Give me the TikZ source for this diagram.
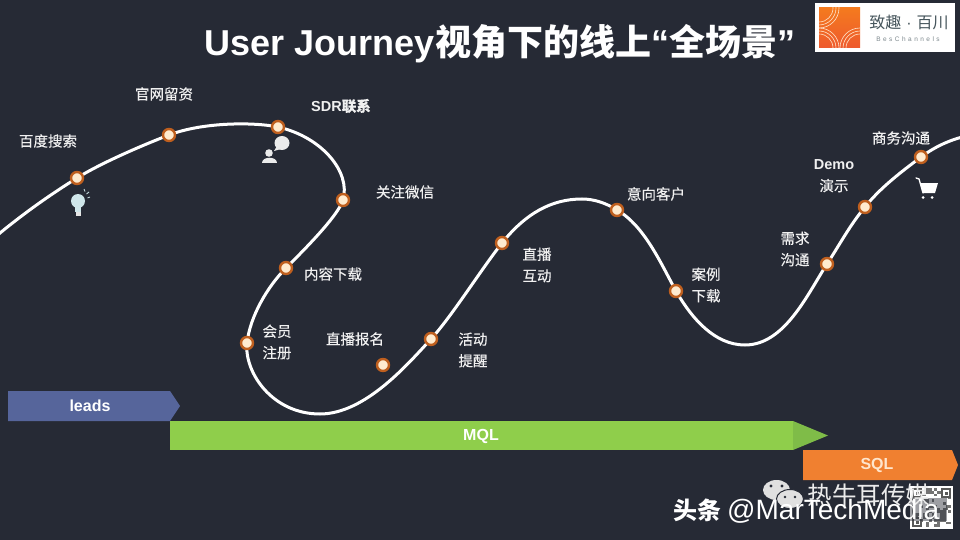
\documentclass[tikz,border=0pt]{standalone}
\usepackage{fontspec}
\setmainfont{Liberation Sans}
\newfontfamily\cjk{Noto Sans CJK SC}
\newfontfamily\cjkmed[FakeBold=0.25]{Noto Sans CJK SC}
\newfontfamily\logolatin[LetterSpace=38]{Liberation Sans}
\definecolor{slide}{HTML}{262A35}
\definecolor{leadsblue}{HTML}{56659B}
\definecolor{mqlgreen}{HTML}{8FCE4B}
\definecolor{mqltip}{HTML}{7FBC48}
\definecolor{sqlorange}{HTML}{F08030}
\definecolor{dotring}{HTML}{BF5F1E}
\definecolor{dotfill}{HTML}{FFEBCF}
\definecolor{iconblue}{HTML}{CFE6EA}
\definecolor{logotext}{HTML}{46555C}
\definecolor{logotop}{HTML}{F47A1E}
\definecolor{logobot}{HTML}{EE5A2E}
\tikzset{
  stagedot/.style={circle, draw=dotring, fill=dotfill, line width=2.4pt, minimum size=12pt, inner sep=0pt},
  stagelabel/.style={text=white!94!black, align=center, font=\cjkmed\fontsize{14.5}{21.5}\selectfont},
  barlabel/.style={text=white, font=\bfseries\fontsize{16}{18}\selectfont},
  curveline/.style={draw=white, line width=3pt, line cap=round}
}
\begin{document}
\begin{tikzpicture}[x=1pt,y=-1pt]
\useasboundingbox (0,0) rectangle (960,540);
\fill[slide] (0,0) rectangle (960,540);

% Title
\node[text=white, font=\bfseries\fontsize{36}{40}\selectfont, inner sep=0pt] (title) at (500,44)
  {User Journey{\cjk 视角下的线上}“{\cjk 全场景}”};

% Logo
\fill[white] (815,3) rectangle (955,52);
\begin{scope}
\clip (819,8) rectangle (860,48);
\shade[top color=logotop, bottom color=logobot] (819,8) rectangle (860,48);
\foreach \r in {14,17,20} {
  \draw[white!80!orange, line width=0.6pt] (819,8) circle (\r);
  \draw[white!80!orange, line width=0.6pt] (819,48) circle (\r);
  \draw[white!80!orange, line width=0.6pt] (860,48) circle (\r);
}
\end{scope}
\node[text=logotext, font=\cjk\fontsize{16}{20}\selectfont, inner sep=0pt] (logoname) at (909,22) {致趣\kern5pt{\rmfamily ·}\kern5pt百川};
\node[text=logotext!70, font=\logolatin\fontsize{6.5}{8}\selectfont, inner sep=0pt] (logosub) at (908,39) {BesChannels};

% Curve stops
\coordinate (start) at (-6,238);
\coordinate (baidu) at (77,178);
\coordinate (site) at (169,135);
\coordinate (sdr) at (278,127);
\coordinate (wechat) at (343,200);
\coordinate (download) at (286,268);
\coordinate (member) at (247,343);
\coordinate (low1) at (320,414);
\coordinate (signup) at (383,365);
\coordinate (remind) at (431,339);
\coordinate (live) at (502,243);
\coordinate (peak) at (582,199);
\coordinate (intent) at (617,210);
\coordinate (cases) at (676,291);
\coordinate (low2) at (745,345);
\coordinate (needs) at (827,264);
\coordinate (demo) at (865,207);
\coordinate (deal) at (921,157);
\coordinate (stop) at (966,136);

% Journey line
\draw[curveline] (start) .. controls (25,212) and (53,193) .. (baidu)
  .. controls (101,163) and (143,145) .. (site)
  .. controls (203,122) and (254,122) .. (sdr)
  .. controls (322,137) and (351,172) .. (wechat)
  .. controls (338,216) and (304,250) .. (download)
  .. controls (268,286) and (250,316) .. (member)
  .. controls (244,372) and (272,414) .. (low1)
  .. controls (365,414) and (408,364) .. (remind)
  .. controls (452,316) and (480,271) .. (live)
  .. controls (526,213) and (552,199) .. (peak)
  .. controls (594,199) and (606,203) .. (intent)
  .. controls (645,226) and (662,266) .. (cases)
  .. controls (692,319) and (715,345) .. (low2)
  .. controls (785,345) and (808,293) .. (needs)
  .. controls (840,244) and (850,225) .. (demo)
  .. controls (880,188) and (901,172) .. (deal)
  .. controls (936,146) and (950,140) .. (stop);
\foreach \n in {baidu,site,sdr,wechat,download,member,signup,remind,live,intent,cases,needs,demo,deal}
  \node[stagedot] (dot\n) at (\n) {};

% Labels
\node[stagelabel] (lbaidu) at (48,141) {百度搜索};
\node[stagelabel] (lsite) at (164,94) {官网留资};
\node[stagelabel] (lsdr) at (341,106) {\rmfamily\bfseries SDR{\cjkmed 联系}};
\node[stagelabel] (lwechat) at (405,192) {关注微信};
\node[stagelabel] (ldownload) at (333,274) {内容下载};
\node[stagelabel] (lmember) at (277,342) {会员\\注册};
\node[stagelabel] (lsignup) at (355,339) {直播报名};
\node[stagelabel] (lremind) at (473,350) {活动\\提醒};
\node[stagelabel] (llive) at (537,265) {直播\\互动};
\node[stagelabel] (lintent) at (656,194) {意向客户};
\node[stagelabel] (lcases) at (706,285) {案例\\下载};
\node[stagelabel] (lneeds) at (795,249) {需求\\沟通};
\node[stagelabel] (ldemo) at (834,176) {\rmfamily\bfseries Demo\\{\cjkmed 演示}};
\node[stagelabel] (ldeal) at (901,138) {商务沟通};

% Bulb icon
\fill[iconblue] (78,201) circle (7);
\fill[iconblue] (75,206) rectangle (81,212);
\fill[white!90!black] (75.5,212) rectangle (80.5,216);
\draw[iconblue, line width=0.8pt] (84,189) -- (85,191.5) (89,192) -- (86.5,194) (90,197) -- (87.5,198);

% Person and bubble icon
\fill[white!92!black] (282,143) ellipse (7.5 and 7);
\fill[white!92!black] (277,146) -- (274,151) -- (281,149) -- cycle;
\fill[white!92!black] (269,153) circle (3.8);
\fill[white!92!black] (262,163) .. controls (262,156.5) and (277,156.5) .. (277,163) -- cycle;

% Cart icon
\draw[white, line width=1.3pt, line cap=round] (916,178) -- (919,179) -- (923,193);
\fill[white] (920,183) -- (938,183) -- (935,193) -- (923,193) -- cycle;
\fill[white] (923,197.5) circle (1.5) (932,197.5) circle (1.5);

% Phase arrows
\fill[leadsblue] (8,391) -- (170,391) -- (180,406) -- (170,421) -- (8,421) -- cycle;
\node[barlabel] (leads) at (90,406) {leads};
\fill[mqlgreen] (170,421) -- (793,421) -- (793,450) -- (170,450) -- cycle;
\fill[mqltip] (793,421) -- (828,435.5) -- (793,450) -- cycle;
\node[barlabel] (mql) at (481,436) {MQL};
\fill[sqlorange] (803,450) -- (952,450) -- (958,465) -- (952,480) -- (803,480) -- cycle;
\node[barlabel, text=white!80!orange] (sql) at (877,465) {SQL};

% Watermark
\fill[white] (910,486) rectangle (953,529);
\pgfmathsetseed{42}
\foreach \i in {0,...,13} {
  \foreach \j in {0,...,13} {
    \pgfmathparse{rnd>0.55 ? 1 : 0}
    \ifnum\pgfmathresult=1
      \fill[black!55] (912+\i*2.8,488+\j*2.8) rectangle +(2.8,2.8);
    \fi
  }
}
\foreach \x/\y in {912/488,941/488,912/517} {
  \fill[white] (\x,\y) rectangle +(10,10);
  \draw[black!65, line width=1.2pt] (\x+1,\y+1) rectangle +(8,8);
  \fill[black!65] (\x+3.5,\y+3.5) rectangle +(3,3);
}
\fill[slide, opacity=0.45] (910,498) rectangle (947,521);
\fill[white!88!black] (776.5,490) ellipse (13.5 and 10);
\fill[white!88!black, draw=slide, line width=1pt] (790,499) ellipse (13.5 and 9.5);
\fill[slide] (771,486) circle (1.6) (782,486) circle (1.6) (785,497) circle (1.3) (795,497) circle (1.3);
\node[text=white!92!black, font=\cjk\fontsize{24.5}{26}\selectfont, inner sep=0pt] (media) at (869,495) {热牛耳传媒};
\node[text=white, font=\cjk\bfseries\fontsize{24}{26}\selectfont, inner sep=0pt, anchor=base west] (toutiao) at (673,519) {头条};
\node[text=white, font=\fontsize{28}{30}\selectfont, inner sep=0pt, anchor=base west] (handle) at (727,519) {@MarTechMedia};
\end{tikzpicture}
\end{document}
